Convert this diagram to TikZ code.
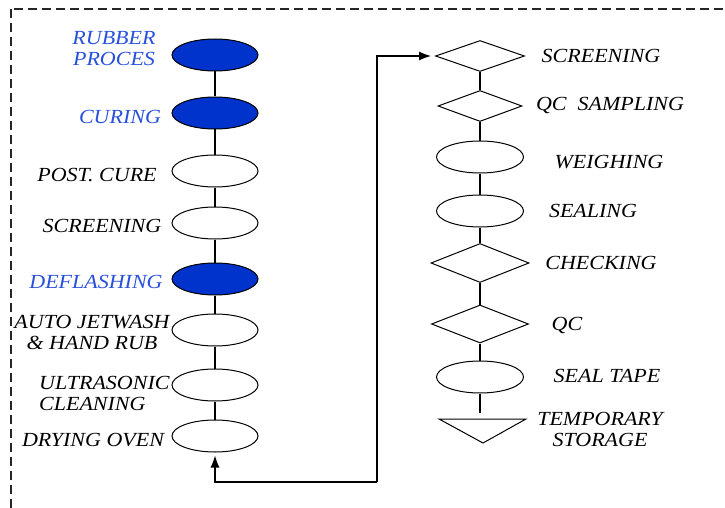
\documentclass[tikz,border=0pt]{standalone}
\usepackage{fontspec}
\setmainfont{Liberation Serif}[FakeStretch=1.1]
\usetikzlibrary{shapes.geometric,arrows.meta}
\definecolor{procblue}{RGB}{0,51,204}
\definecolor{lblblue}{RGB}{40,80,220}
\begin{document}
\begin{tikzpicture}[x=1pt,y=-1pt,
  every node/.style={font=\fontsize{20}{21}\selectfont\itshape},
  proc/.style={ellipse,draw=black,line width=1pt,fill=white,minimum width=86pt,minimum height=32pt,inner sep=0pt},
  bproc/.style={proc,fill=procblue},
  dia/.style={diamond,draw=black,line width=1pt,fill=white,inner sep=0pt},
  lbl/.style={inner sep=0pt,align=center},
  blbl/.style={lbl,text=lblblue},
  conn/.style={draw=black,line width=1.1pt},
  arr/.style={line width=1.1pt,-{Latex[length=12pt,width=9pt]}}]
\useasboundingbox (0,0) rectangle (725,508);
\draw[black!85,line width=1.1pt,dash pattern=on 9pt off 5pt] (11,9) rectangle (740,525);

% left column
\node[bproc] (rub) at (215,55) {};
\node[bproc] (cur) at (215,113) {};
\node[proc] (post) at (215,171) {};
\node[proc] (scrl) at (215,223) {};
\node[bproc] (defl) at (215,279) {};
\node[proc] (jet) at (215,330) {};
\node[proc] (ultra) at (215,385) {};
\node[proc] (dry) at (215,436) {};

\foreach \a/\b in {rub/cur,cur/post,post/scrl,scrl/defl,defl/jet,jet/ultra,ultra/dry}
  \draw[conn] (\a.south) -- (\b.north);

\node[blbl] (trub) at (114,49) {RUBBER\\PROCES};
\node[blbl] (tcur) at (120,117) {CURING};
\node[lbl] (tpost) at (97,175) {POST. CURE};
\node[lbl] (tscrl) at (102,226) {SCREENING};
\node[blbl] (tdefl) at (96,282) {DEFLASHING};
\node[lbl] (tjet) at (92,332) {AUTO JETWASH\\\&\ HAND RUB};
\node[lbl,align=left,anchor=west] (tultra) at (39,393) {ULTRASONIC\\CLEANING};
\node[lbl] (tdry) at (93,440) {DRYING OVEN};

% right column
\node[dia,minimum width=89pt,minimum height=31pt] (rscr) at (480,56) {};
\node[dia,minimum width=84pt,minimum height=31pt] (qcs) at (480,106) {};
\node[proc,minimum width=87pt] (wei) at (480,157) {};
\node[proc,minimum width=87pt] (sea) at (480,211) {};
\node[dia,minimum width=98pt,minimum height=39pt] (chk) at (480,263) {};
\node[dia,minimum width=97pt,minimum height=38pt] (qc) at (480,324) {};
\node[proc,minimum width=87pt] (stape) at (480,377) {};
\draw[line width=1pt] (439,419) -- (526,419) -- (483,443) -- cycle;
\coordinate (tri) at (480,413);

\draw[conn] (rscr.south) -- (qcs.north);
\draw[conn] (qcs.south) -- (wei.north);
\draw[conn] (wei.south) -- (sea.north);
\draw[conn] (sea.south) -- (chk.north);
\draw[conn] (chk.south) -- (qc.north);
\draw[conn] (qc.south) -- (stape.north);
\draw[conn] (stape.south) -- (tri);

\node[lbl] (trscr) at (601,56) {SCREENING};
\node[lbl] (tqcs) at (610,106) {QC\ \ SAMPLING};
\node[lbl] (twei) at (609,162) {WEIGHING};
\node[lbl] (tsea) at (593,211) {SEALING};
\node[lbl] (tchk) at (601,263) {CHECKING};
\node[lbl] (tqc) at (567,325) {QC};
\node[lbl] (tstape) at (607,376) {SEAL TAPE};
\node[lbl] (ttmp) at (600,429) {TEMPORARY\\STORAGE};

% return arrow
\coordinate (c1) at (377,482);
\draw[arr,shorten >=4pt] (c1) |- (rscr.west);
\draw[arr,shorten >=3pt] (c1) -| (dry.south);
\end{tikzpicture}
\end{document}
